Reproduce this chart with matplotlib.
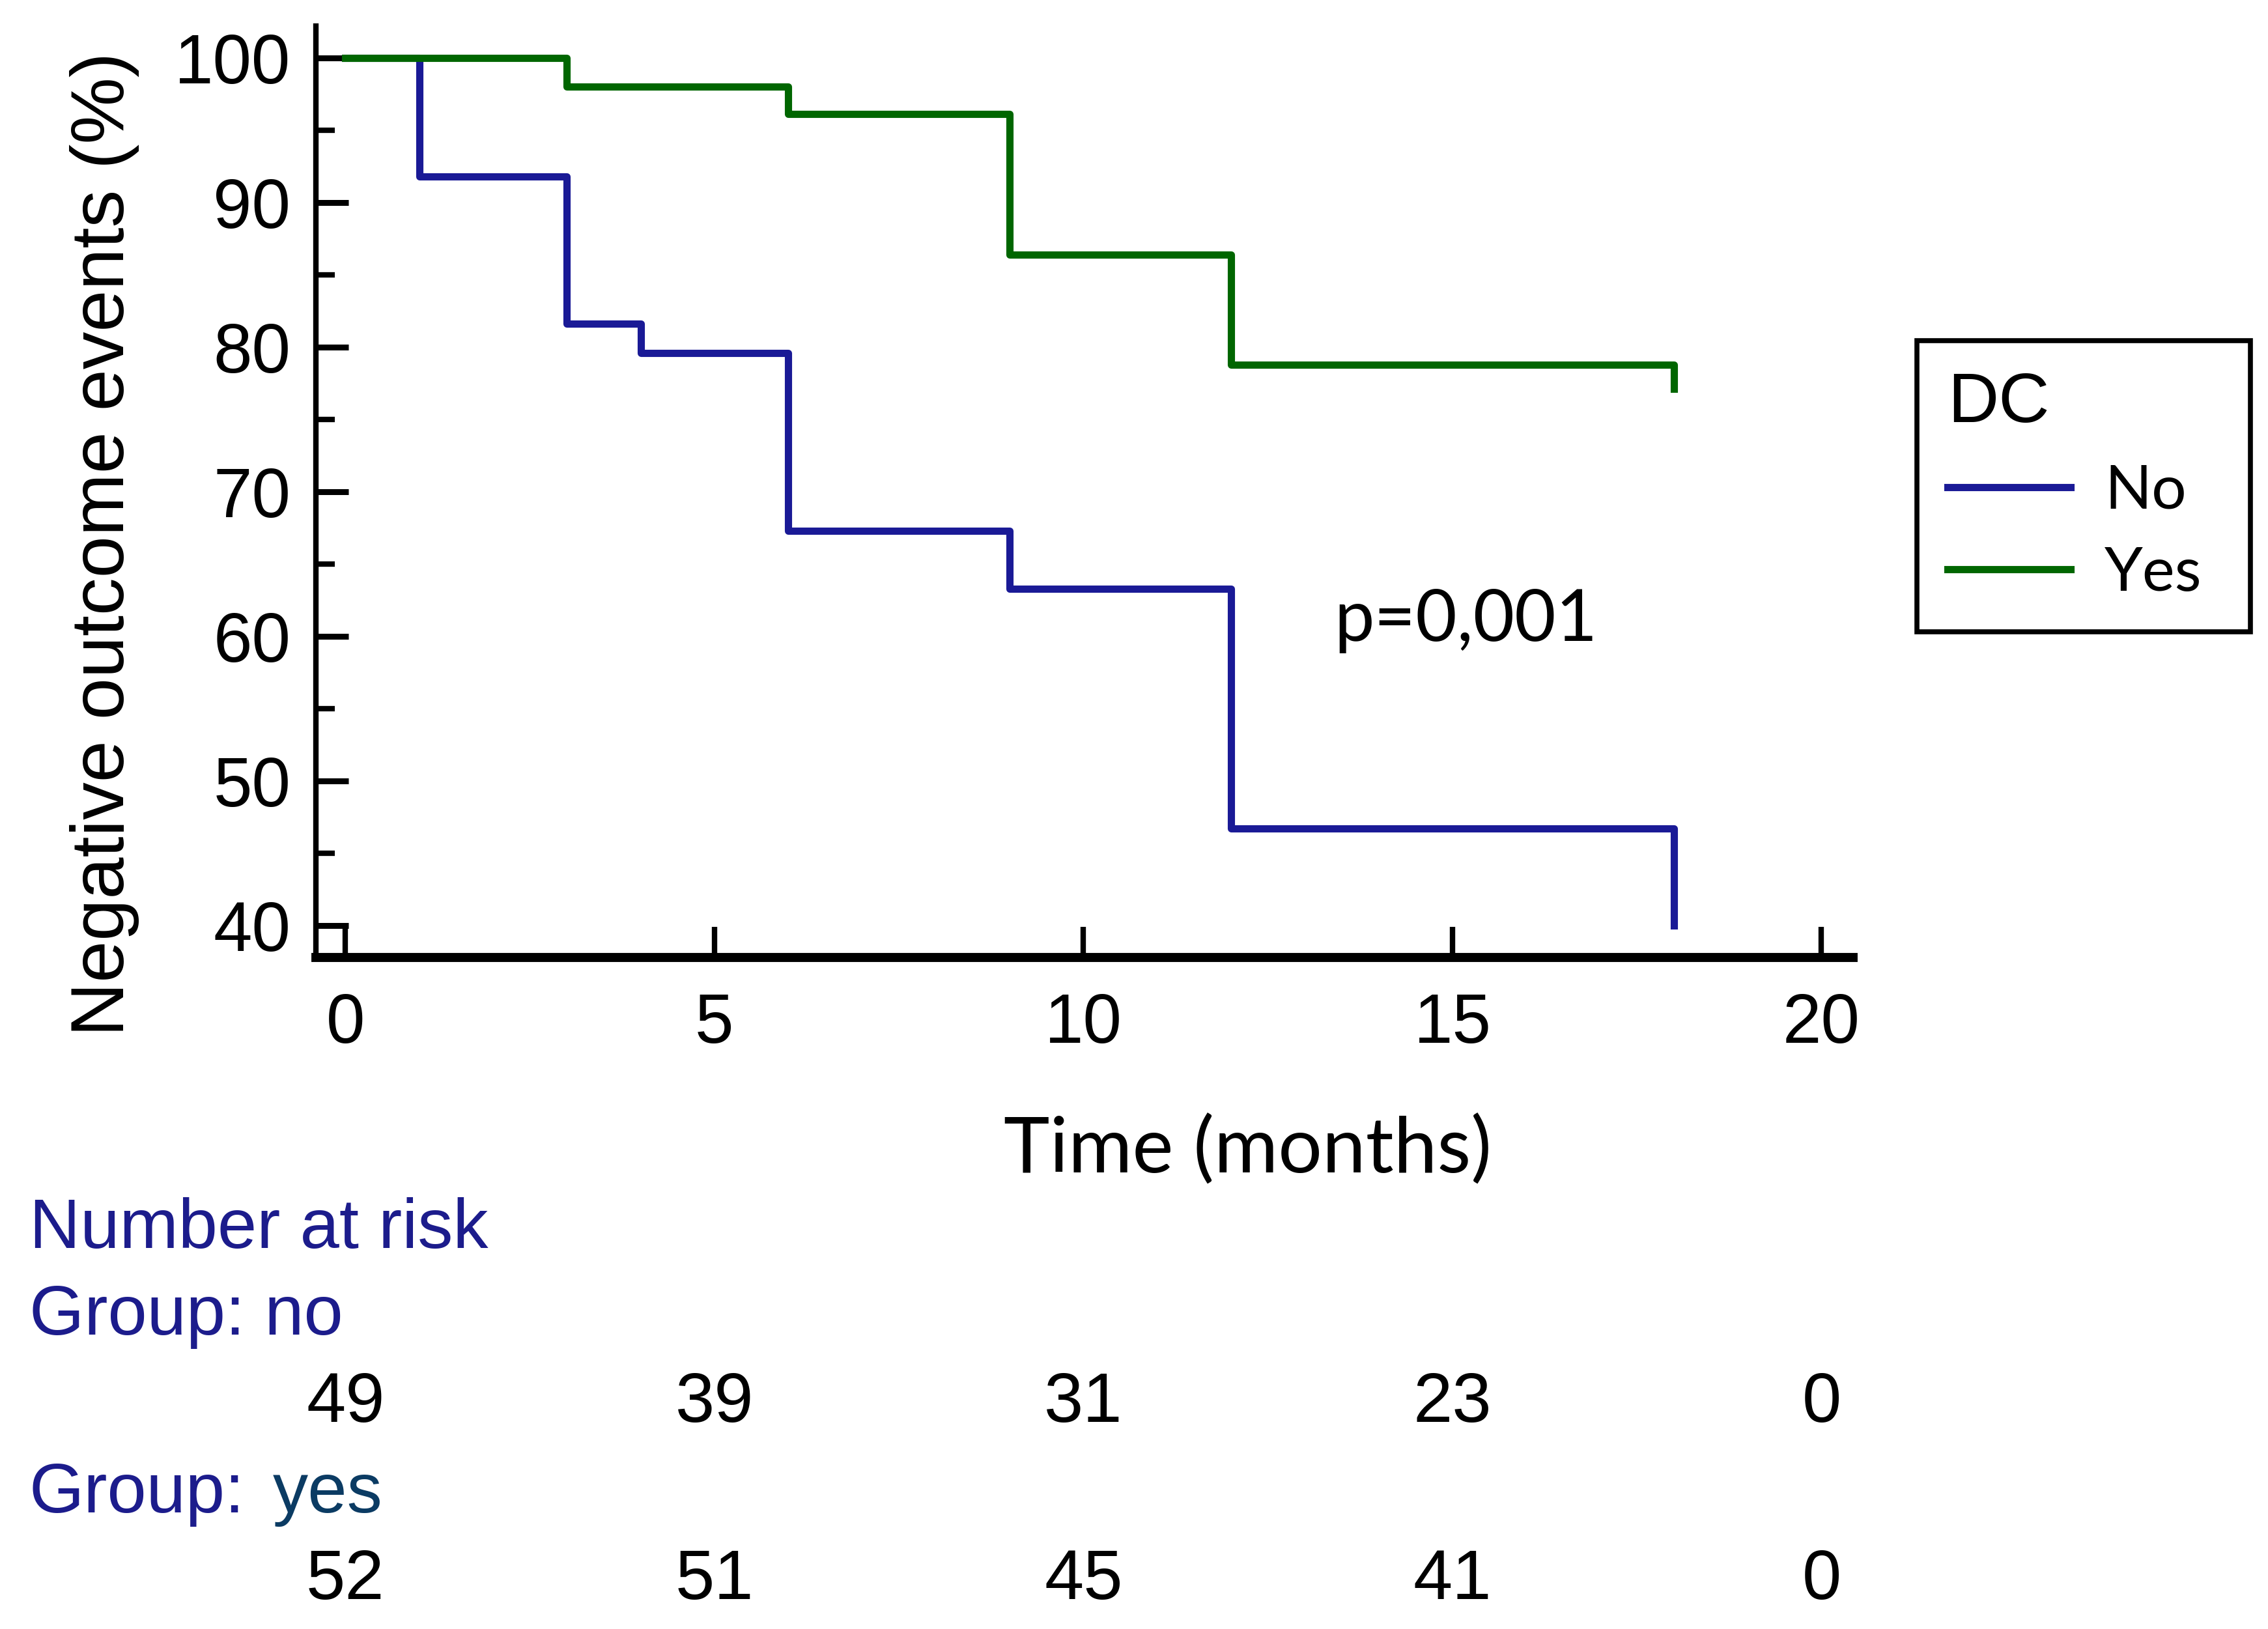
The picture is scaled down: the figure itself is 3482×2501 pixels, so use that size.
import matplotlib
matplotlib.use("Agg")
import matplotlib.pyplot as plt
from matplotlib.transforms import blended_transform_factory

# Kaplan-Meier steps
time_no = [0, 1, 3, 4, 6, 9, 12, 18]
surv_no = [100, 91.8, 81.6, 79.6, 67.3, 63.3, 46.7, 40.0]
time_yes = [0, 3, 6, 9, 12, 18]
surv_yes = [100, 98.0, 96.1, 86.4, 78.8, 77.1]

risk_times = [0, 5, 10, 15, 20]
risk_no = [49, 39, 31, 23, 0]
risk_yes = [52, 51, 45, 41, 0]

x_ticks = [0, 5, 10, 15, 20]
y_ticks = [40, 50, 60, 70, 80, 90, 100]
y_minor = [45, 55, 65, 75, 85, 95]

blue = "#1a1a96"
green = "#006600"
navy = "#1c1c8c"
teal = "#0b3b63"
arial = "Liberation Sans"
calibri = "Lato"

fig = plt.figure(figsize=(34.82, 25.01), dpi=100)
ax = fig.add_axes([0.1393, 0.4122, 0.6778, 0.5718])

l_no, = ax.step(time_no, surv_no, where="post", color=blue, lw=8, label="No")
l_yes, = ax.step(time_yes, surv_yes, where="post", color=green, lw=8, label="Yes")

ax.set_xlim(-0.4, 20.43)
ax.set_ylim(37.8, 102.2)
ax.set_xticks(x_ticks)
ax.set_yticks(y_ticks)
ax.set_yticks(y_minor, minor=True)

for s in ["top", "right"]:
    ax.spines[s].set_visible(False)
ax.spines["left"].set_linewidth(6)
ax.spines["bottom"].set_linewidth(10)

ax.tick_params(axis="x", which="major", direction="in", length=34, width=6, pad=38)
ax.tick_params(axis="y", which="major", direction="in", length=36, width=6.5, pad=28)
ax.tick_params(axis="y", which="minor", direction="in", length=21, width=6)
for lab in ax.get_xticklabels() + ax.get_yticklabels():
    lab.set_fontfamily(arial)
    lab.set_fontsize(77)

fig.text(0.046, 0.666, "Negative outcome events (%)", rotation=90,
         ha="center", va="center", fontsize=83, family=arial)

ax.set_xlabel("Time (months)", fontsize=86, family=calibri, va="center")
ax.xaxis.set_label_coords(0.606, -0.207)

ax.text(13.4, 61.1, "p=0,001", fontsize=79, family=calibri, ha="left", va="center")

leg = ax.legend(handles=[l_no, l_yes], labels=["No", "Yes"], title="DC",
                loc="upper left", bbox_to_anchor=(0.8452, 0.6066, 0.1470, 0.1843),
                bbox_transform=fig.transFigure, mode="expand", borderaxespad=0,
                prop={"family": calibri, "size": 68},
                title_fontproperties={"family": arial, "size": 78},
                alignment="left", fancybox=False, framealpha=1,
                borderpad=0.5, labelspacing=0.45, handlelength=2.0,
                handletextpad=0.55)
leg.get_frame().set_edgecolor("black")
leg.get_frame().set_linewidth(5.5)

# number at risk table
fig.text(45 / 3482, 1 - 1888 / 2501, "Number at risk", color=navy,
         fontsize=78, family=arial, ha="left", va="center")
fig.text(45 / 3482, 1 - 2021 / 2501, "Group: no", color=navy,
         fontsize=78, family=arial, ha="left", va="center")
fig.text(45 / 3482, 1 - 2294 / 2501, "Group:", color=navy,
         fontsize=78, family=arial, ha="left", va="center")
fig.text(419 / 3482, 1 - 2294 / 2501, "yes", color=teal,
         fontsize=78, family=arial, ha="left", va="center")

trans = blended_transform_factory(ax.transData, fig.transFigure)
for t, n in zip(risk_times, risk_no):
    ax.text(t, 1 - 2155 / 2501, str(n), transform=trans, ha="center", va="center",
            fontsize=78, family=arial, clip_on=False)
for t, n in zip(risk_times, risk_yes):
    ax.text(t, 1 - 2427 / 2501, str(n), transform=trans, ha="center", va="center",
            fontsize=78, family=arial, clip_on=False)

fig.savefig("out.png", dpi=100)
